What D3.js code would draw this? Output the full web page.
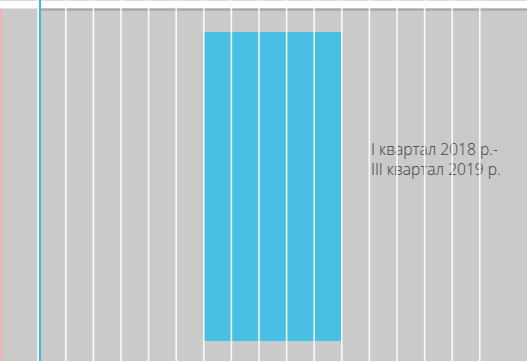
<!DOCTYPE html>
<html>
<head>
<meta charset="utf-8">
<script src="https://cdn.jsdelivr.net/npm/d3@7"></script>
<style>
  html, body { margin: 0; padding: 0; background: #ffffff; }
  svg { display: block; }
</style>
</head>
<body>
<script>
// Column grid: one column per period, separated by white rules
const columnIndex = d3.range(16);
// Highlighted periods (column index) and their bar values
const highlightColumns = [6, 7, 8, 9, 10];
const highlightValues = [100, 100, 100, 100, 100];
// Annotation text
const labelLines = ["I квартал 2018 р.-", "III квартал 2019 р."];

const W = 527, H = 361;
const svg = d3.select("body").append("svg").attr("width", W).attr("height", H);

const x = d3.scaleLinear().domain([0, 16]).range([38.2, 479.8]);
const y = d3.scaleLinear().domain([0, 100]).range([341, 32]);

// faint top rule
svg.append("rect").attr("x", 0).attr("y", 0).attr("width", W).attr("height", 1).attr("fill", "#dcdddc");

// plot background
svg.append("rect").attr("x", 0).attr("y", 8.5).attr("width", W).attr("height", H - 8.5).attr("fill", "#c9cac9");

// darker top edge of the plot
svg.append("rect").attr("x", 41).attr("y", 8.5).attr("width", W - 41).attr("height", 2).attr("fill", "#a1a4a1");

// left accent strip
svg.append("rect").attr("x", 0).attr("y", 8.5).attr("width", 2).attr("height", H - 8.5).attr("fill", "#f2b6b2");

// highlighted bars
svg.append("g").selectAll("rect")
  .data(highlightColumns.map((c, i) => ({ c, v: highlightValues[i] })))
  .join("rect")
  .attr("x", d => x(d.c))
  .attr("width", d => x(d.c + 1) - x(d.c))
  .attr("y", d => y(d.v))
  .attr("height", d => y(0) - y(d.v))
  .attr("fill", "#48bfe3");

// annotation
const label = svg.append("text")
  .attr("x", 371)
  .attr("y", 155)
  .attr("font-family", "'Open Sans', sans-serif")
  .attr("font-size", 15.6)
  .attr("font-weight", 300)
  .attr("fill", "#3a3a3a");
label.selectAll("tspan").data(labelLines).join("tspan")
  .attr("x", 371)
  .attr("dy", (d, i) => i === 0 ? 0 : 20)
  .text(d => d);

// column separators
svg.append("g").selectAll("line")
  .data(d3.range(17))
  .join("line")
  .attr("x1", d => x(d)).attr("x2", d => x(d))
  .attr("y1", 0).attr("y2", H)
  .attr("stroke", "#ffffff")
  .attr("stroke-opacity", 0.9)
  .attr("stroke-width", 1.6);

// vertical marker line
svg.append("line")
  .attr("x1", 40).attr("x2", 40)
  .attr("y1", 0).attr("y2", H)
  .attr("stroke", "#3fb8e0")
  .attr("stroke-width", 2);
</script>
</body>
</html>
